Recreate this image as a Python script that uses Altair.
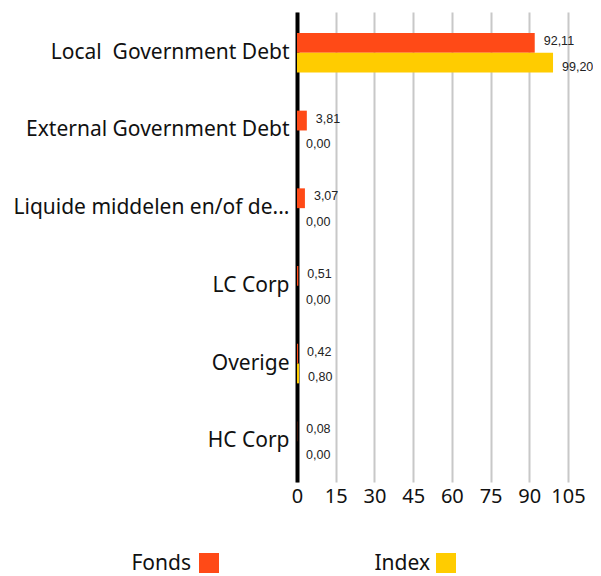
import altair as alt
import pandas as pd

categories = ["Local\u00a0 Government Debt", "External Government Debt",
              "Liquide middelen en/of de...", "LC Corp", "Overige", "HC Corp"]
fonds = [92.11, 3.81, 3.07, 0.51, 0.42, 0.08]
index = [99.20, 0.00, 0.00, 0.00, 0.80, 0.00]
series = ["Fonds", "Index"]
colors = ["#FF4A17", "#FFCC00"]
x_ticks = [0, 15, 30, 45, 60, 75, 90, 105]

rows = []
for c, f, i in zip(categories, fonds, index):
    rows.append({"cat": c, "series": "Fonds", "value": f})
    rows.append({"cat": c, "series": "Index", "value": i})
df = pd.DataFrame(rows)
legend_df = pd.DataFrame({"series": series})

FONT = "Noto Sans"

y_enc = alt.Y("cat:N", sort=categories,
              scale=alt.Scale(paddingInner=0.49, paddingOuter=0.27),
              axis=alt.Axis(title=None, labelFontSize=21, labelColor="#111",
                            labelFont=FONT, labelLimit=400, ticks=False,
                            domainColor="#000", domainWidth=4, labelPadding=8,
                            grid=False))
x_enc = alt.X("value:Q", scale=alt.Scale(domain=[0, 105], nice=False),
              axis=alt.Axis(title=None, values=x_ticks, labelFontSize=20,
                            labelFont=FONT, labelColor="#111", domain=False,
                            ticks=False, gridColor="#c8c8c8", gridWidth=2,
                            labelPadding=4, labelOverlap=False, labelFlush=False))
yoff = alt.YOffset("series:N", sort=series)
color = alt.Color("series:N", scale=alt.Scale(domain=series, range=colors), legend=None)

base = alt.Chart(df)
bars = base.mark_bar().encode(y=y_enc, x=x_enc, yOffset=yoff, color=color)

label_expr = "replace(format(datum.value, '.2f'), '.', ',')"
txt_f = base.transform_filter("datum.series == 'Fonds'").transform_calculate(
    lbl=label_expr).mark_text(align="left", dx=9, dy=-2, fontSize=12.5,
                              font="Liberation Sans", color="#222").encode(
    y=y_enc, x=x_enc, yOffset=yoff, text="lbl:N")
txt_i = base.transform_filter("datum.series == 'Index'").transform_calculate(
    lbl=label_expr).mark_text(align="left", dx=9, dy=4, fontSize=12.5,
                              font="Liberation Sans", color="#222").encode(
    y=y_enc, x=x_enc, yOffset=yoff, text="lbl:N")

main = alt.layer(bars, txt_f, txt_i)

leg_text = alt.Chart(legend_df).mark_text(align="right", fontSize=21, font=FONT,
                                          color="#111", baseline="middle").encode(
    x=alt.X("series:N", scale=alt.Scale(domain=series, range=[-106, 133], padding=0), axis=None),
    y=alt.value(552), text="series:N")
leg_sq = alt.Chart(legend_df).mark_square(size=400, opacity=1).encode(
    x=alt.X("series:N", scale=alt.Scale(domain=series, range=[-88, 149], padding=0), axis=None),
    y=alt.value(551),
    color=alt.Color("series:N", scale=alt.Scale(domain=series, range=colors), legend=None))

chart = alt.layer(main, leg_text, leg_sq).resolve_scale(x="independent").properties(
    width=271, height=470,
    autosize=alt.AutoSizeParams(type="none"),
    padding={"left": 289, "top": 4, "right": 25, "bottom": 94}
).configure_view(stroke=None)

chart.save("out.html", embed_options={"renderer": "svg", "actions": False})
